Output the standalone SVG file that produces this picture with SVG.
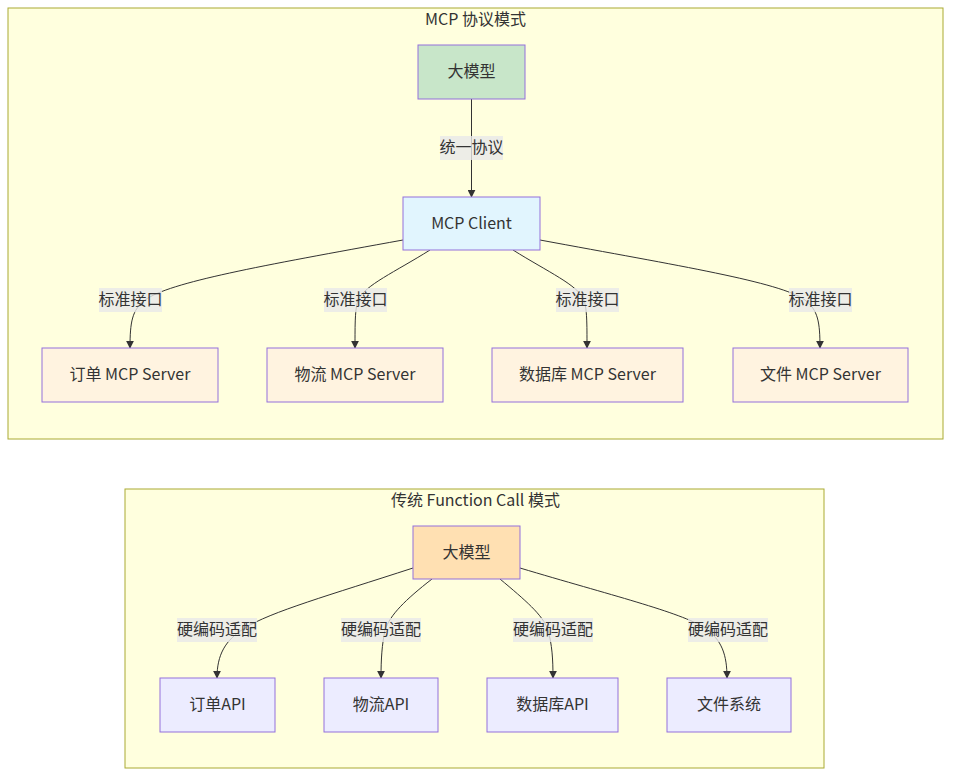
<svg xmlns="http://www.w3.org/2000/svg" width="959" height="783" viewBox="0 0 959 783">
<defs>
<style>
text{font-family:"Noto Sans CJK SC","Liberation Sans",sans-serif;font-size:16px;fill:#333;text-anchor:middle;dominant-baseline:central}
.cluster{fill:#ffffde;stroke:#aaaa33;stroke-width:1}
.node{stroke:#9370DB;stroke-width:1}
.def{fill:#ECECFF}
.edge{fill:none;stroke:#333;stroke-width:1}
.lbl{fill:rgba(232,232,232,0.8)}
</style>
<marker id="arr" viewBox="0 0 10 10" refX="9" refY="5" markerUnits="userSpaceOnUse" markerWidth="8" markerHeight="8" orient="auto">
<path d="M0,0 L10,5 L0,10 z" fill="#333"/>
</marker>
</defs>
<rect width="959" height="783" fill="#ffffff"/>
<g id="cluster-mcp">
<rect class="cluster" x="8" y="8" width="935" height="431"/>
<text x="475.5" y="18">MCP 协议模式</text>
</g>
<g id="cluster-fc">
<rect class="cluster" x="125" y="489" width="699" height="279"/>
<text x="475.5" y="498.5">传统 Function Call 模式</text>
</g>
<g id="connectors">
<path class="edge" marker-end="url(#arr)" d="M471.5,99 L471.5,197"/>
<path class="edge" marker-end="url(#arr)" d="M403,240 C260,266 170,282 145,300 C132,310 130,322 130,348"/>
<path class="edge" marker-end="url(#arr)" d="M430,250 C395,272 365,285 358,300 C355,310 355,322 355,348"/>
<path class="edge" marker-end="url(#arr)" d="M513,250 C548,272 578,285 584,300 C587,310 587,322 587,348"/>
<path class="edge" marker-end="url(#arr)" d="M540,240 C680,266 780,282 805,300 C818,310 820,322 820,348"/>
<path class="edge" marker-end="url(#arr)" d="M413,568 C330,595 270,612 245,628 C225,640 217,655 217,678"/>
<path class="edge" marker-end="url(#arr)" d="M432,579 C405,600 390,615 385,630 C382,645 381,658 381,678"/>
<path class="edge" marker-end="url(#arr)" d="M500,579 C525,600 543,615 548,630 C552,645 553,658 553,678"/>
<path class="edge" marker-end="url(#arr)" d="M520,568 C610,595 680,612 705,628 C722,640 727,655 727,678"/>
<rect class="lbl" x="440" y="136" width="63" height="24"/>
<text x="471.5" y="146">统一协议</text>
<rect class="lbl" x="99" y="288" width="63" height="24"/>
<text x="130.5" y="298">标准接口</text>
<rect class="lbl" x="324" y="288" width="63" height="24"/>
<text x="355.5" y="298">标准接口</text>
<rect class="lbl" x="556" y="288" width="63" height="24"/>
<text x="587.5" y="298">标准接口</text>
<rect class="lbl" x="789" y="288" width="63" height="24"/>
<text x="820.5" y="298">标准接口</text>
<rect class="lbl" x="177" y="618" width="80" height="24"/>
<text x="217" y="628">硬编码适配</text>
<rect class="lbl" x="341" y="618" width="80" height="24"/>
<text x="381" y="628">硬编码适配</text>
<rect class="lbl" x="513" y="618" width="80" height="24"/>
<text x="553" y="628">硬编码适配</text>
<rect class="lbl" x="688" y="618" width="80" height="24"/>
<text x="728" y="628">硬编码适配</text>
</g>
<g id="node-llm-mcp">
<rect class="node" x="418" y="45" width="107" height="54" fill="#c8e6c9"/>
<text x="471.5" y="70">大模型</text>
</g>
<g id="node-client">
<rect class="node" x="403" y="197" width="137" height="53" fill="#e1f5fe"/>
<text x="471.5" y="221.5">MCP Client</text>
</g>
<g id="node-s1">
<rect class="node" x="42" y="348" width="176" height="54" fill="#fff3e0"/>
<text x="130" y="373">订单 MCP Server</text>
</g>
<g id="node-s2">
<rect class="node" x="267" y="348" width="176" height="54" fill="#fff3e0"/>
<text x="355" y="373">物流 MCP Server</text>
</g>
<g id="node-s3">
<rect class="node" x="492" y="348" width="191" height="54" fill="#fff3e0"/>
<text x="587.5" y="373">数据库 MCP Server</text>
</g>
<g id="node-s4">
<rect class="node" x="733" y="348" width="175" height="54" fill="#fff3e0"/>
<text x="820.5" y="373">文件 MCP Server</text>
</g>
<g id="node-llm-fc">
<rect class="node" x="413" y="526" width="107" height="53" fill="#ffe0b2"/>
<text x="466.5" y="550.5">大模型</text>
</g>
<g id="node-a1">
<rect class="node def" x="160" y="678" width="115" height="54"/>
<text x="217.5" y="703">订单API</text>
</g>
<g id="node-a2">
<rect class="node def" x="324" y="678" width="114" height="54"/>
<text x="381" y="703">物流API</text>
</g>
<g id="node-a3">
<rect class="node def" x="487" y="678" width="131" height="54"/>
<text x="552.5" y="703">数据库API</text>
</g>
<g id="node-a4">
<rect class="node def" x="667" y="678" width="124" height="54"/>
<text x="729" y="703">文件系统</text>
</g>
</svg>
